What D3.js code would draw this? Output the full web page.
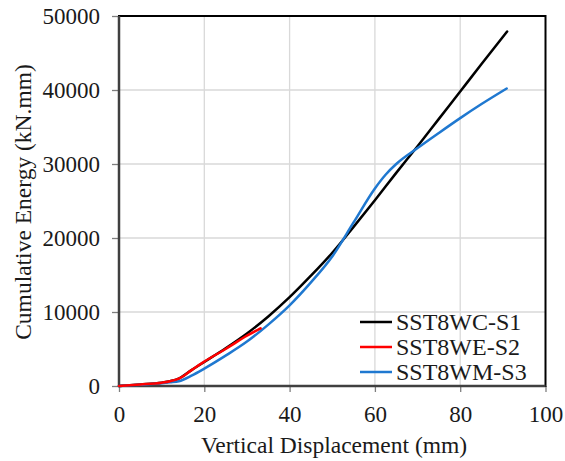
<!DOCTYPE html>
<html><head><meta charset="utf-8">
<script src="https://cdn.jsdelivr.net/npm/d3@7"></script>
<style>
html,body{margin:0;padding:0;background:#fff;}
svg{display:block;}
</style></head>
<body>
<svg id="chart" width="565" height="461"></svg>
<script>
const xTicks = [0, 20, 40, 60, 80, 100];
const yTicks = [0, 10000, 20000, 30000, 40000, 50000];
const seriesNames = ["SST8WC-S1", "SST8WE-S2", "SST8WM-S3"];
const seriesColors = ["#000000", "#ff0000", "#1f78d0"];

const s1X = [0, 5, 10, 12, 14, 17, 20, 25, 30, 35, 40, 45, 50, 55, 60, 65, 70, 75, 80, 85, 91];
const s1Y = [0, 200, 450, 650, 1000, 2150, 3250, 5100, 7100, 9400, 12000, 14900, 18000, 21500, 25100, 28800, 32400, 36100, 39800, 43500, 47900];

const s2X = [0, 5, 10, 12, 14, 17, 20, 25, 30, 33.2];
const s2Y = [0, 200, 450, 650, 1000, 2150, 3300, 5000, 6800, 7800];

const s3X = [0, 5, 10, 12, 14, 17, 20, 25, 30, 35, 40, 45, 50, 55, 60, 62.5, 65, 70, 75, 80, 85, 90.9];
const s3Y = [0, 170, 370, 500, 650, 1400, 2350, 4100, 6000, 8300, 10900, 14000, 17500, 22100, 26700, 28550, 30000, 32150, 34200, 36200, 38100, 40200];

const series = [
  {name: seriesNames[0], color: seriesColors[0], xs: s1X, ys: s1Y},
  {name: seriesNames[1], color: seriesColors[1], xs: s2X, ys: s2Y},
  {name: seriesNames[2], color: seriesColors[2], xs: s3X, ys: s3Y}
];

const FONT = "Liberation Serif";
const TXT = "#1a1a1a";
const L = 119, R = 545.5, T = 16, B = 386;
const svg = d3.select("#chart");
const x = d3.scaleLinear().domain([0, 100]).range([L, R]);
const y = d3.scaleLinear().domain([0, 50000]).range([B, T]);

// grid
const grid = svg.append("g");
grid.selectAll("line.vx").data(xTicks.slice(1, -1)).enter().append("line")
  .attr("x1", d => x(d)).attr("x2", d => x(d)).attr("y1", T).attr("y2", B)
  .attr("stroke", "#d9d9d9").attr("stroke-width", 1.3);
grid.selectAll("line.hy").data(yTicks.slice(1, -1)).enter().append("line")
  .attr("x1", L).attr("x2", R).attr("y1", d => y(d)).attr("y2", d => y(d))
  .attr("stroke", "#d9d9d9").attr("stroke-width", 1.3);

// axes
const xAxis = d3.axisBottom(x).tickValues(xTicks).tickSize(6).tickPadding(14).tickFormat(d3.format("d"));
const yAxis = d3.axisLeft(y).tickValues(yTicks).tickSize(7).tickPadding(12).tickFormat(d3.format("d"));
const gx = svg.append("g").attr("transform", `translate(0,${B})`).call(xAxis);
const gy = svg.append("g").attr("transform", `translate(${L},0)`).call(yAxis);
[gx, gy].forEach(g => {
  g.attr("font-family", null).attr("font-size", null);
  g.select(".domain").remove();
  g.selectAll(".tick line").attr("stroke", "#7f7f7f").attr("stroke-width", 1.3);
  g.selectAll(".tick text").style("font-family", FONT).style("font-size", "23px").attr("fill", TXT);
});
gy.selectAll(".tick text").attr("dy", "0.34em");

// frame
svg.append("rect").attr("x", L).attr("y", T).attr("width", R - L).attr("height", B - T)
  .attr("fill", "none").attr("stroke", "#000").attr("stroke-width", 2);
svg.append("line").attr("x1", L).attr("x2", L).attr("y1", T).attr("y2", B + 1)
  .attr("stroke", "#404040").attr("stroke-width", 2.5);
svg.append("line").attr("x1", L - 1).attr("x2", R).attr("y1", B).attr("y2", B)
  .attr("stroke", "#404040").attr("stroke-width", 2.5);

// lines
const line = d3.line().x(d => x(d[0])).y(d => y(d[1])).curve(d3.curveMonotoneX);
const order = [0, 2, 1];
order.forEach(i => {
  const s = series[i];
  svg.append("path").datum(s.xs.map((v, k) => [v, s.ys[k]]))
    .attr("d", line).attr("fill", "none").attr("stroke", s.color)
    .attr("stroke-width", 2.5).attr("stroke-linecap", "round");
});

// legend
const lg = svg.append("g");
series.forEach((s, i) => {
  const cy = 322 + i * 25;
  lg.append("line").attr("x1", 360).attr("x2", 392).attr("y1", cy).attr("y2", cy)
    .attr("stroke", s.color).attr("stroke-width", 2.5);
  lg.append("text").attr("x", 396).attr("y", cy).attr("dy", "0.34em")
    .style("font-family", FONT).style("font-size", "24px").attr("fill", TXT).text(s.name);
});

// axis titles
svg.append("text").attr("x", 334).attr("y", 445).attr("dy", "0.34em")
  .attr("text-anchor", "middle").style("font-family", FONT).style("font-size", "23.5px").attr("fill", TXT)
  .text("Vertical Displacement (mm)");
svg.append("text").attr("transform", "translate(23,202) rotate(-90)").attr("dy", "0.34em")
  .attr("text-anchor", "middle").style("font-family", FONT).style("font-size", "23.5px").attr("fill", TXT)
  .text("Cumulative Energy (kN.mm)");
</script>
</body></html>
